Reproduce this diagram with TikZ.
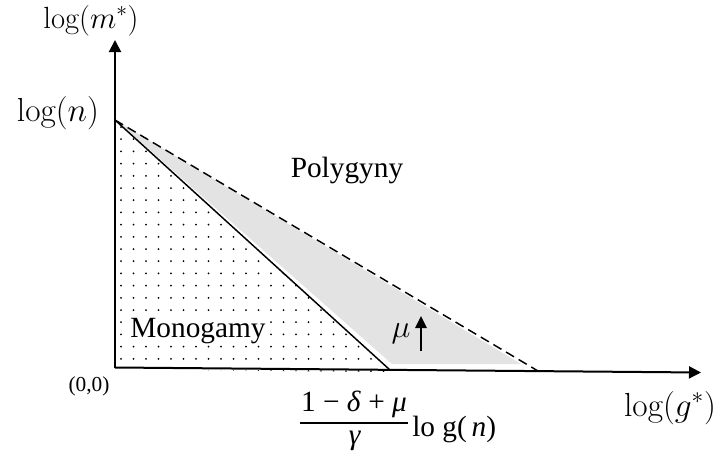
\RequirePackage{fix-cm}
\documentclass[tikz,border=0pt]{standalone}
\usepackage{fontspec}
\newfontfamily\tnrfont{Liberation Serif}
\usetikzlibrary{arrows.meta}
\tikzset{
  axisline/.style={line width=1.5pt,-{Triangle[length=9pt,width=9pt]}},
  boundline/.style={line width=1.1pt},
  dashline/.style={line width=1.1pt,dash pattern=on 7pt off 4pt},
  shiftarrow/.style={line width=1.3pt,-{Triangle[length=9pt,width=8.5pt]}},
  tnr/.style={font=\tnrfont\fontsize{22}{26}\selectfont,inner sep=0pt},
  mlabel/.style={font=\fontsize{25}{30}\selectfont,inner sep=0pt},
  dotfill/.style={fill=black}
}
\begin{document}
\begin{tikzpicture}[x=0.75pt,y=-0.75pt]
\useasboundingbox (0,0) rectangle (728,457);
% key points
\coordinate (O) at (115,367.5);
\coordinate (N) at (115,120);
\coordinate (A) at (390,370);
\coordinate (B) at (538,371);
\coordinate (Ytip) at (115,40);
\coordinate (Xtip) at (701,372.5);
\coordinate (G1) at (521,364);
\coordinate (G2) at (392,364);
\coordinate (G0) at (117,121);
% gray band
\fill[black!11] (G0) -- (G1) -- (G2) -- cycle;
% dotted monogamy region
\begin{scope}
  \clip ([xshift=1.5pt]N) -- ([shift={(1.5pt,-1.5pt)}]O) -- ([yshift=-1.5pt]A) -- cycle;
  \foreach \r in {0,...,20} {
    \foreach \c in {0,...,22} {
      \fill[dotfill] ({121+12.5*\c},{127+12.2*\r}) circle (0.75pt);
    }
  }
\end{scope}
% boundaries
\draw[boundline] (N) -- (A);
\draw[dashline] (N) -- (B);
% axes
\draw[axisline] (O) -- (Ytip);
\draw[axisline] (O) -- (Xtip);
% mu arrow
\coordinate (MuBot) at (421,351);
\coordinate (MuTop) at (421,316);
\draw[shiftarrow] (MuBot) -- (MuTop);
\node[font=\fontsize{24}{28}\selectfont,inner sep=0pt] (mu) at (401,334) {$\mu$};
% axis labels
\node[mlabel,anchor=base,font=\fontsize{23}{27}\selectfont] (ylab) at (91,28) {$\log(m^*)$};
\node[mlabel,anchor=base] (nlab) at (58,121) {$\log(n)$};
\node[mlabel,anchor=base] (xlab) at (670,416) {$\log(g^*)$};
\node[tnr,font=\tnrfont\fontsize{16}{18}\selectfont] (origin) at (89,386) {(0,0)};
% region labels
\node[tnr,anchor=base] (poly) at (347,177) {Polygyny};
\node[tnr,anchor=base,fill=white,inner sep=0.6pt] (mono) at (198,337) {Monogamy};
% fraction label
\node[tnr,anchor=base] (num) at (354,411) {1 − \textit{δ} + \textit{μ}};
\coordinate (BarL) at (300,423);
\coordinate (BarR) at (408,423);
\draw[line width=1.7pt] (BarL) -- (BarR);
\node[tnr,anchor=base] (den) at (355,444) {\textit{γ}};
\node[tnr,anchor=base west] (lg) at (412,436) {lo g(\,\textit{n})};
\end{tikzpicture}
\end{document}
